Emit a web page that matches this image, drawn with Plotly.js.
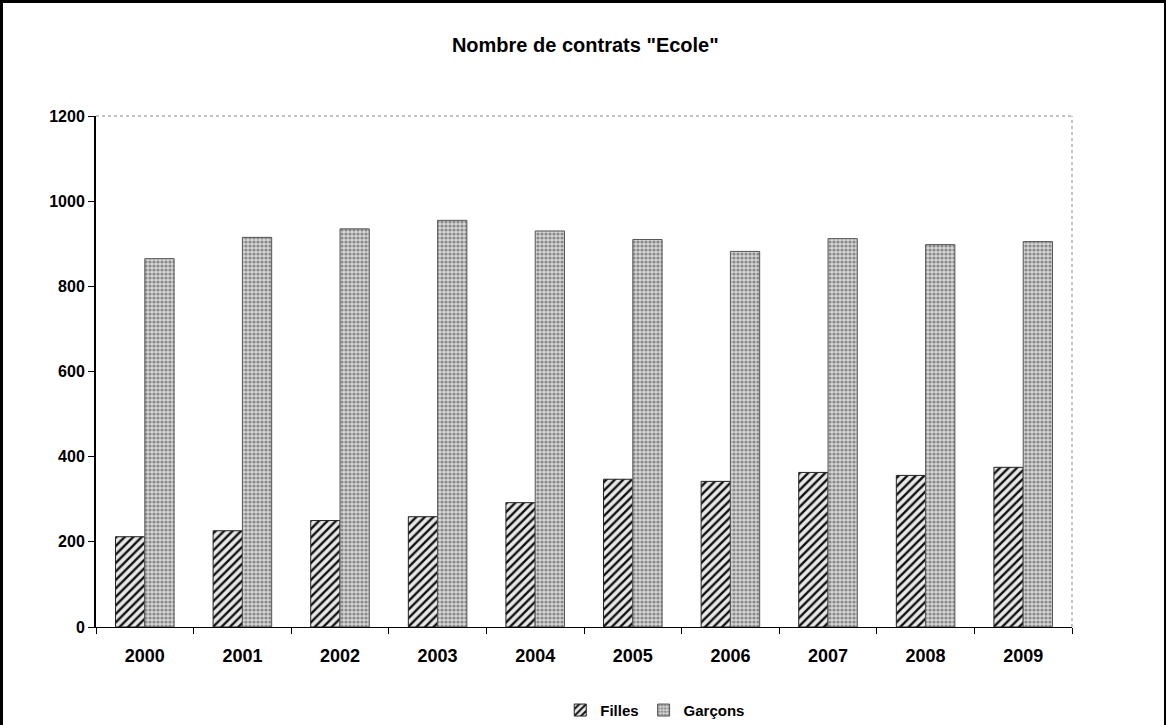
<!DOCTYPE html>
<html>
<head>
<meta charset="utf-8">
<script src="https://cdn.plot.ly/plotly-3.0.1.min.js"></script>
<style>
html,body{margin:0;padding:0;background:#fff;}
#wrap{position:relative;width:1166px;height:725px;}
#chart{width:1166px;height:725px;}
#frame{position:absolute;left:0;top:0;width:1161px;height:730px;border-top:3px solid #000;border-left:3px solid #000;border-right:2px solid #000;pointer-events:none;}
</style>
</head>
<body>
<div id="wrap"><div id="chart"></div><div id="frame"></div></div>
<script>
const years = ["2000","2001","2002","2003","2004","2005","2006","2007","2008","2009"];
const filles = [212, 226, 250, 259, 292, 347, 342, 363, 356, 375];
const garcons = [865, 915, 935, 955, 930, 910, 882, 912, 898, 905];
const yTicks = [0, 200, 400, 600, 800, 1000, 1200];

const fontFam = '"Liberation Sans", Arial, sans-serif';

const traces = [
  {
    type: 'bar', name: 'Filles', x: years, y: filles,
    marker: {
      color: '#ffffff',
      line: {color: '#222', width: 1},
      pattern: {shape: '/', fgcolor: '#111', bgcolor: '#e8e8e8', size: 6, solidity: 0.4}
    }
  },
  {
    type: 'bar', name: 'Garçons', x: years, y: garcons,
    marker: {
      color: '#cfcfcf',
      line: {color: '#555', width: 1},
      pattern: {shape: '.', fgcolor: '#8a8a8a', bgcolor: '#d6d6d6', size: 4, solidity: 0.5}
    }
  }
];

const layout = {
  width: 1166, height: 725,
  paper_bgcolor: '#fff', plot_bgcolor: '#fff',
  margin: {l: 96, r: 94, t: 116, b: 98, autoexpand: false},
  title: {text: 'Nombre de contrats "Ecole"', x: 0.502, xanchor: 'center', y: 0.938, yanchor: 'middle',
          font: {family: fontFam, size: 20, color: '#000', weight: 'bold'}},
  barmode: 'group', bargap: 0.4, bargroupgap: 0,
  showlegend: true,
  legend: {orientation: 'h', x: 0.573, xanchor: 'center', y: -0.163, yanchor: 'middle',
           font: {family: fontFam, size: 15, color: '#000', weight: 'bold'},
           itemwidth: 30, tracegroupgap: 0},
  xaxis: {
    type: 'category', tickson: 'boundaries', ticks: 'outside', ticklen: 6, tickcolor: '#000',
    showline: true, linecolor: '#000', linewidth: 1, showgrid: false, zeroline: false,
    ticklabelstandoff: 12,
    tickfont: {family: fontFam, size: 18, color: '#000', weight: 'bold'}
  },
  yaxis: {
    range: [0, 1200], tickvals: yTicks, ticktext: yTicks.map(String),
    ticks: 'outside', ticklen: 6, tickcolor: '#000',
    showline: true, linecolor: '#000', linewidth: 2, showgrid: false, zeroline: false,
    tickfont: {family: fontFam, size: 16, color: '#000', weight: 'bold'}
  },
  shapes: [
    {type: 'line', xref: 'paper', yref: 'paper', x0: 0, x1: 1, y0: 1, y1: 1, line: {color: '#888', width: 1, dash: 'dot'}},
    {type: 'line', xref: 'paper', yref: 'paper', x0: 1, x1: 1, y0: 0, y1: 1, line: {color: '#888', width: 1, dash: 'dot'}}
  ]
};

Plotly.newPlot('chart', traces, layout, {displayModeBar: false, staticPlot: true});
</script>
</body>
</html>
